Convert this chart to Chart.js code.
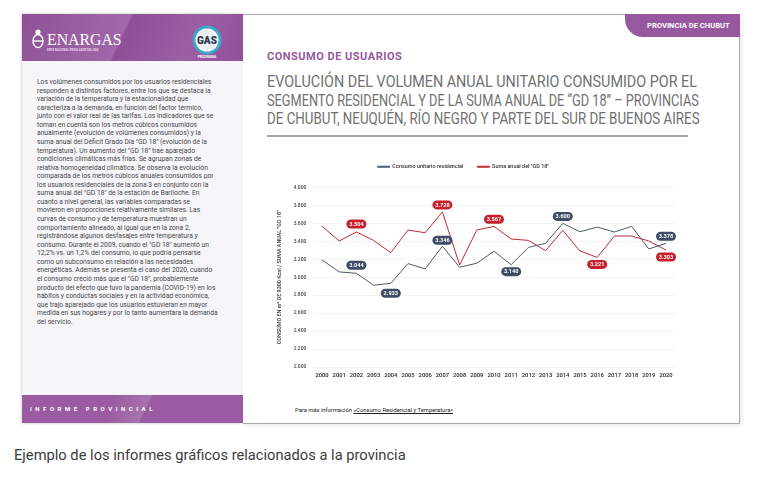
<!DOCTYPE html>
<html lang="es">
<head>
<meta charset="utf-8">
<title>Consumo de usuarios</title>
<script src="https://cdn.jsdelivr.net/npm/chart.js@4"></script>
<style>
  html, body { margin: 0; padding: 0; background: #fff; }
  body { width: 757px; height: 481px; position: relative; overflow: hidden; font-family: Roboto, sans-serif; }
  .abs { position: absolute; }
  #left { left: 22px; top: 14px; width: 221px; height: 409px; background: #f6f6f9; box-shadow: 0 0 3px rgba(0,0,0,.25); }
  #right { left: 243px; top: 14px; width: 496px; height: 408px; background: #fff; border: 1px solid #a9a9a9; border-left: 0; box-shadow: 2px 2px 4px rgba(0,0,0,.08); }
  #head { left: 22px; top: 14px; width: 221px; height: 47px; background: linear-gradient(115deg, #8f5098 0%, #a068a8 45%, #8e4f97 46%, #9c5fa4 75%, #8f5098 100%); }
  #foot { left: 22px; top: 395px; width: 221px; height: 28px; background: linear-gradient(115deg, #9a5ba2 0%, #9a5ba2 40%, #a873ae 55%, #9a5ba2 56%); color: #fff; font-size: 6px; font-weight: 700; letter-spacing: 3.55px; line-height: 28px; text-indent: 8px; }
  #tab { left: 625px; top: 14px; width: 115px; height: 23px; background: #98589f; border-bottom-left-radius: 18px; color: #fff; font-size: 8px; font-weight: 700; line-height: 23px; }
  #tab span { position: absolute; left: 22px; white-space: nowrap; transform: scaleX(.95); transform-origin: left; }
  #body { left: 37px; top: 78px; font-size: 7.6px; line-height: 8.57px; color: #444; white-space: nowrap; transform: scaleX(.885); transform-origin: left top; }
  #kicker { left: 267px; top: 50px; font-size: 11px; font-weight: 700; color: #98589f; letter-spacing: .5px; white-space: nowrap; }
  #title { left: 267px; top: 72px; font-size: 17px; line-height: 18.7px; color: #707070; white-space: nowrap; }
  #title div { transform-origin: left top; }
  #rule { left: 267px; top: 135px; width: 421px; height: 1.5px; background: #a5a5a5; }
  #more { left: 295px; top: 407px; font-size: 5.8px; color: #222; white-space: nowrap; }
  #more u { text-decoration: underline; }
  #caption { left: 14px; top: 445.5px; font-size: 14.7px; color: #3c3c3c; white-space: nowrap; }
  #wrap { left: 243px; top: 150px; width: 440px; height: 240px; }
</style>
</head>
<body>
<div class="abs" id="left"></div>
<div class="abs" id="right"></div>
<div class="abs" id="head"></div>
<svg class="abs" style="left:22px;top:14px" width="221" height="47" viewBox="0 0 221 47">
  <ellipse cx="16" cy="27" rx="5" ry="6.5" fill="none" stroke="#fff" stroke-width="1.4"/>
  <circle cx="16" cy="18" r="2.6" fill="#fff"/>
  <path d="M11.5 27h9" stroke="#fff" stroke-width="1.4"/>
  <text x="25" y="31" font-family="Liberation Serif" font-size="15.8" fill="#fff">ENARGAS</text>
  <text x="25" y="36.5" font-family="Roboto" font-size="2.9" font-weight="700" fill="#e8d8ea">ENTE NACIONAL REGULADOR DEL GAS</text>
  <circle cx="185" cy="26" r="14.5" fill="#3fa7cc"/>
  <circle cx="185" cy="26" r="11.5" fill="#fff"/>
  <circle cx="185" cy="26" r="10" fill="#e9eef2"/>
  <text x="185" y="30" text-anchor="middle" font-family="Roboto" font-size="10" font-weight="900" fill="#27384a">GAS</text>
  <text x="185" y="43.5" text-anchor="middle" font-family="Roboto" font-size="3.4" font-weight="700" fill="#fff">PROGRAMA</text>
</svg>
<div class="abs" id="foot">INFORME PROVINCIAL</div>
<div class="abs" id="tab"><span>PROVINCIA DE CHUBUT</span></div>
<div class="abs" id="body">Los volúmenes consumidos por los usuarios residenciales<br>responden a distintos factores, entre los que se destaca la<br>variación de la temperatura y la estacionalidad que<br>caracteriza a la demanda, en función del factor térmico,<br>junto con el valor real de las tarifas. Los indicadores que se<br>toman en cuenta son los metros cúbicos consumidos<br>anualmente (evolución de volúmenes consumidos) y la<br>suma anual del Déficit Grado Día "GD 18" (evolución de la<br>temperatura). Un aumento del "GD 18" trae aparejado<br>condiciones climáticas más frías. Se agrupan zonas de<br>relativa homogeneidad climática. Se observa la evolución<br>comparada de los metros cúbicos anuales consumidos por<br>los usuarios residenciales de la zona 3 en conjunto con la<br>suma anual del "GD 18" de la estación de Bariloche. En<br>cuanto a nivel general, las variables comparadas se<br>movieron en proporciones relativamente similares. Las<br>curvas de consumo y de temperatura muestran un<br>comportamiento alineado, al igual que en la zona 2,<br>registrándose algunos desfasajes entre temperatura y<br>consumo. Durante el 2009, cuando el "GD 18" aumentó un<br>12,2% vs. un 1,2% del consumo, lo que podría pensarse<br>como un subconsumo en relación a las necesidades<br>energéticas. Además se presenta el caso del 2020, cuando<br>el consumo creció más que el "GD 18", probablemente<br>producto del efecto que tuvo la pandemia (COVID-19) en los<br>hábitos y conductas sociales y en la actividad económica,<br>que trajo aparejado que los usuarios estuvieran en mayor<br>medida en sus hogares y por lo tanto aumentara la demanda<br>del servicio.</div>
<div class="abs" id="kicker">CONSUMO DE USUARIOS</div>
<div class="abs" id="title">
  <div style="transform:scaleX(.845)">EVOLUCIÓN DEL VOLUMEN ANUAL UNITARIO CONSUMIDO POR EL</div>
  <div style="transform:scaleX(.75)">SEGMENTO RESIDENCIAL Y DE LA SUMA ANUAL DE “GD 18” – PROVINCIAS</div>
  <div style="transform:scaleX(.784)">DE CHUBUT, NEUQUÉN, RÍO NEGRO Y PARTE DEL SUR DE BUENOS AIRES</div>
</div>
<div class="abs" id="rule"></div>
<div class="abs" id="wrap"><canvas id="chart" width="440" height="240"></canvas></div>
<div class="abs" id="more">Para más información <u>«Consumo Residencial y Temperatura»</u></div>
<div class="abs" id="caption">Ejemplo de los informes gráficos relacionados a la provincia</div>

<script>
const years = ["2000","2001","2002","2003","2004","2005","2006","2007","2008","2009","2010",
               "2011","2012","2013","2014","2015","2016","2017","2018","2019","2020"];
const consumo = [3193,3060,3044,2911,2933,3152,3093,3346,3111,3156,3289,
                 3140,3333,3378,3600,3507,3559,3504,3567,3315,3378];
const sumaGD18 = [3570,3404,3504,3411,3274,3526,3496,3728,3137,3526,3567,
                  3426,3411,3296,3522,3293,3221,3459,3459,3404,3303];
const seriesNames = ["Consumo unitario residencial", "Suma anual del \"GD 18\""];

// which years get a value pill, and how far from the point it sits
const consumoPills = { 2: -8, 4: 10, 7: -6, 11: 7, 14: -7, 20: -7 };
const gdPills = { 2: -8, 7: -7, 10: -7, 16: 7, 20: 7 };

const GREY = "#4e5a6b";
const RED = "#bf2b33";

const pillPlugin = {
    id: "pills",
    afterDatasetsDraw(chart) {
        const ctx = chart.ctx;
        const sets = [[0, consumoPills, "#3e4c66"], [1, gdPills, "#c8202b"]];
        ctx.save();
        ctx.font = "700 5.6px Roboto";
        ctx.textAlign = "center";
        ctx.textBaseline = "middle";
        sets.forEach(([dsIndex, pills, colour]) => {
            const values = chart.data.datasets[dsIndex].data;
            Object.keys(pills).forEach((i) => {
                const x = chart.scales.x.getPixelForValue(Number(i));
                const y = chart.scales.y.getPixelForValue(values[i]) + pills[i];
                ctx.fillStyle = colour;
                ctx.beginPath();
                ctx.roundRect(x - 10, y - 4.5, 20, 9, 4.5);
                ctx.fill();
                ctx.fillStyle = "#fff";
                const v = String(values[i]);
                ctx.fillText(v[0] + "." + v.slice(1), x, y + 0.3);
            });
        });
        ctx.restore();
    },
};

// keep the legend band a fixed height so the plot lands where it should
const legendBand = {
    id: "legendBand",
    beforeInit(chart) {
        const fit = chart.legend.fit;
        chart.legend.fit = function () {
            fit.call(this);
            this.height = 37.5;
        };
    },
};

new Chart(document.getElementById("chart").getContext("2d"), {
    type: "line",
    data: {
        labels: years,
        datasets: [
            { label: seriesNames[0], data: consumo, borderColor: GREY, backgroundColor: GREY, borderWidth: 1, tension: 0, pointRadius: 0 },
            { label: seriesNames[1], data: sumaGD18, borderColor: RED, backgroundColor: RED, borderWidth: 1, tension: 0, pointRadius: 0 },
        ],
    },
    plugins: [legendBand, pillPlugin],
    options: {
        responsive: false,
        animation: false,
        layout: { padding: { top: 0, right: 8.4, bottom: 0, left: 9 } },
        plugins: {
            tooltip: { enabled: false },
            legend: {
                display: true,
                position: "top",
                labels: {
                    boxWidth: 12,
                    boxHeight: 1,
                    padding: 14,
                    color: "#333",
                    font: { family: "Roboto", size: 5.45, weight: "500" },
                },
            },
        },
        scales: {
            x: {
                offset: true,
                grid: { display: false, drawTicks: false },
                border: { display: false },
                afterFit(scale) { scale.height = 23; },
                ticks: {
                    color: "#222",
                    autoSkip: false,
                    maxRotation: 0,
                    padding: 5,
                    font: { family: "Roboto", size: 5.8, weight: "500" },
                },
            },
            y: {
                min: 2000,
                max: 4000,
                afterFit(scale) { scale.width = 61.4; },
                grid: { color: "#efefef", lineWidth: 0.7, drawTicks: false },
                border: { display: false },
                title: {
                    display: true,
                    text: "CONSUMO EN m³ DE 9300 Kcal / SUMA ANUAL \"GD 18\"",
                    color: "#333",
                    padding: { top: 24, bottom: 0 },
                    font: { family: "Roboto", size: 5.4, weight: "500" },
                },
                ticks: {
                    stepSize: 200,
                    color: "#444",
                    padding: 7,
                    font: { family: "Roboto", size: 5, weight: "500" },
                    callback: (v) => String(v)[0] + "." + String(v).slice(1),
                },
            },
        },
    },
});
</script>
</body>
</html>
